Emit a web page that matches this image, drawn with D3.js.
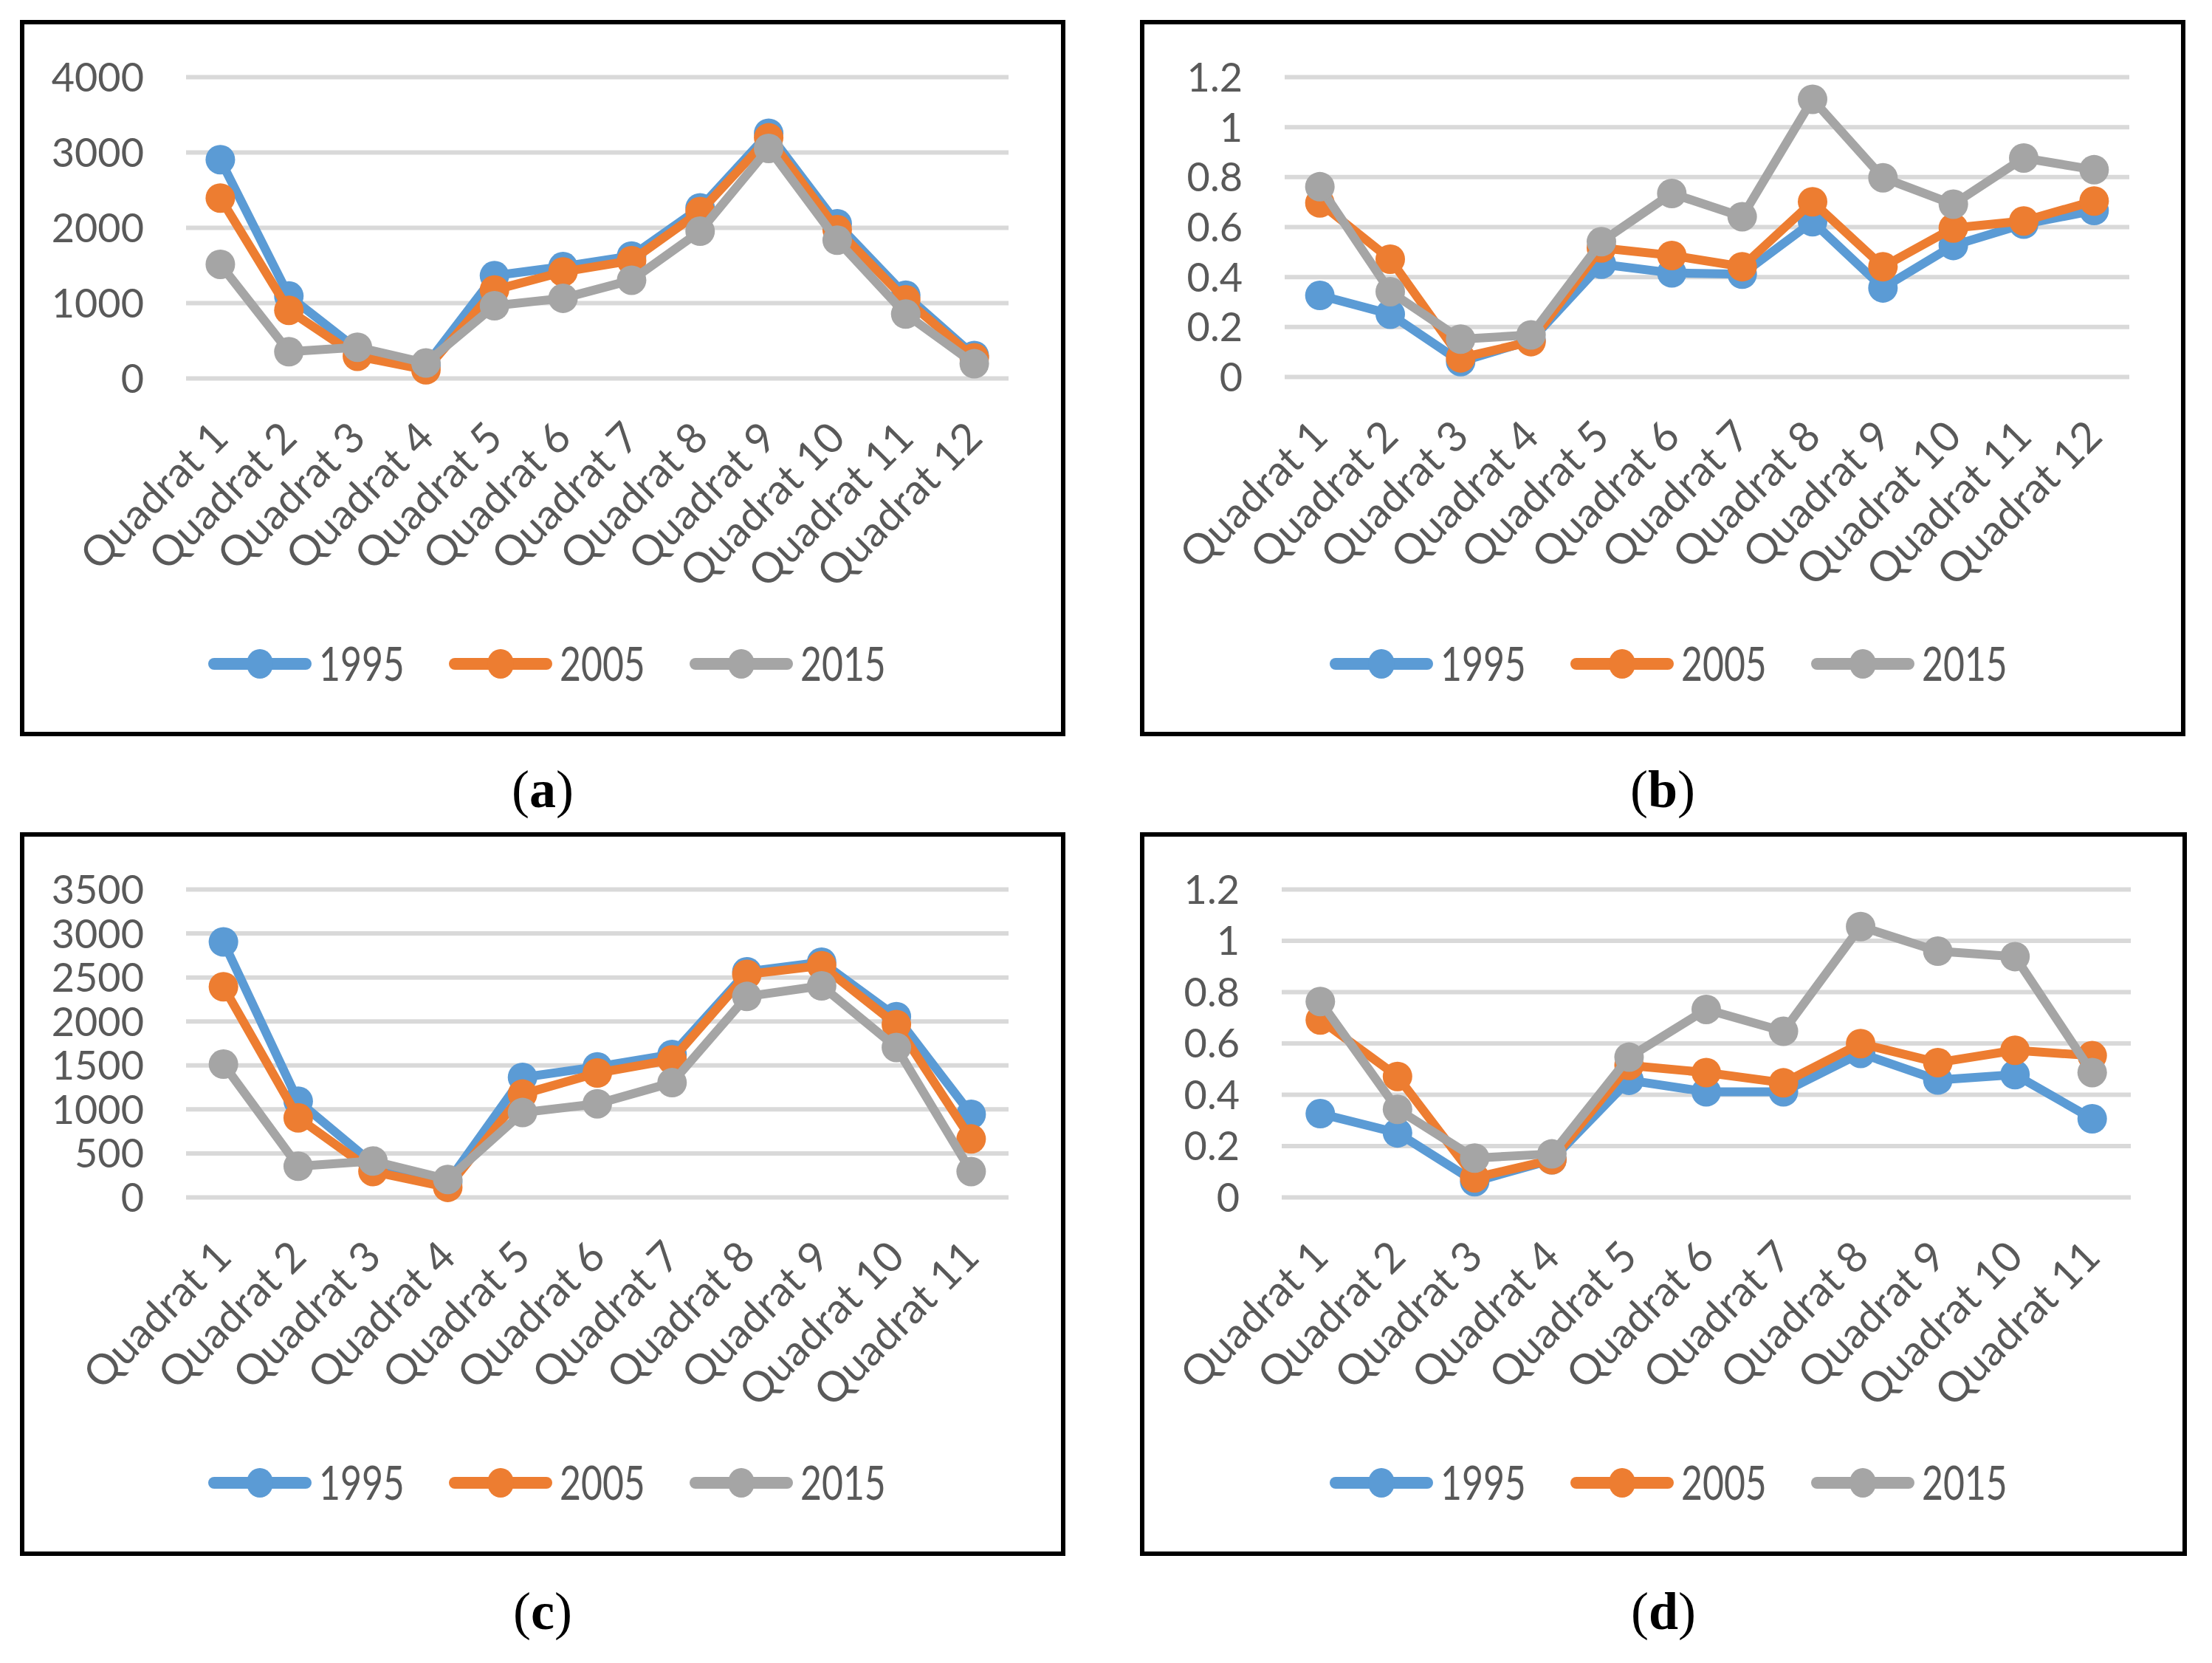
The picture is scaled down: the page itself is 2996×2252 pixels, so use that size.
<!DOCTYPE html>
<html>
<head>
<meta charset="utf-8">
<script src="https://cdn.jsdelivr.net/npm/d3@7"></script>
<style>
  body { margin: 0; background: #fff; }
  svg { display: block; }
</style>
</head>
<body>
<div id="vis"></div>
<script>
const FRAME_WIDTH = 2996;
const FRAME_HEIGHT = 2252;
const FONT = "Lato, 'Open Sans', sans-serif";
const TEXT_COLOR = "#595959";
const GRID_COLOR = "#D9D9D9";

// data
const YEARS = ["1995", "2005", "2015"];
const COLORS = ["#5B9BD5", "#ED7D31", "#A5A5A5"];

const QUADRATS_12 = ["Quadrat 1", "Quadrat 2", "Quadrat 3", "Quadrat 4", "Quadrat 5", "Quadrat 6",
  "Quadrat 7", "Quadrat 8", "Quadrat 9", "Quadrat 10", "Quadrat 11", "Quadrat 12"];
const QUADRATS_11 = ["Quadrat 1", "Quadrat 2", "Quadrat 3", "Quadrat 4", "Quadrat 5", "Quadrat 6",
  "Quadrat 7", "Quadrat 8", "Quadrat 9", "Quadrat 10", "Quadrat 11"];

const Y_TICKS_A = [0, 1000, 2000, 3000, 4000];
const Y_TICKS_C = [0, 500, 1000, 1500, 2000, 2500, 3000, 3500];
const Y_TICKS_RATIO = [0, 0.2, 0.4, 0.6, 0.8, 1, 1.2];

const A_1995 = [2900, 1090, 380, 170, 1360, 1480, 1620, 2260, 3250, 2050, 1100, 300];
const A_2005 = [2390, 900, 290, 110, 1170, 1410, 1560, 2210, 3190, 1970, 1040, 270];
const A_2015 = [1510, 350, 410, 200, 960, 1060, 1300, 1950, 3050, 1830, 850, 190];

const B_1995 = [0.325, 0.25, 0.06, 0.145, 0.45, 0.415, 0.41, 0.62, 0.355, 0.525, 0.61, 0.665];
const B_2005 = [0.695, 0.47, 0.075, 0.14, 0.515, 0.485, 0.44, 0.70, 0.44, 0.595, 0.623, 0.703];
const B_2015 = [0.76, 0.34, 0.15, 0.167, 0.54, 0.733, 0.64, 1.11, 0.796, 0.69, 0.875, 0.828];

const C_1995 = [2900, 1090, 380, 170, 1360, 1480, 1620, 2560, 2670, 2050, 940];
const C_2005 = [2390, 900, 290, 110, 1170, 1410, 1560, 2530, 2630, 1960, 660];
const C_2015 = [1510, 350, 410, 200, 960, 1060, 1300, 2280, 2400, 1700, 290];

const D_1995 = [0.325, 0.25, 0.06, 0.145, 0.455, 0.41, 0.41, 0.56, 0.456, 0.477, 0.305];
const D_2005 = [0.69, 0.47, 0.075, 0.145, 0.513, 0.485, 0.445, 0.598, 0.524, 0.572, 0.551];
const D_2015 = [0.762, 0.342, 0.152, 0.168, 0.545, 0.731, 0.646, 1.054, 0.958, 0.937, 0.485];

const PANELS = [
  { id: "a", categories: QUADRATS_12, series: [A_1995, A_2005, A_2015], yTicks: Y_TICKS_A,
    box: { left: 30, top: 30, right: 1440, bottom: 994 },
    plot: { left: 252, right: 1366, top: 104, bottom: 512 },
    legendY: 899, legendX: 742, labelY: 1093 },
  { id: "b", categories: QUADRATS_12, series: [B_1995, B_2005, B_2015], yTicks: Y_TICKS_RATIO,
    box: { left: 1547, top: 30, right: 2957, bottom: 994 },
    plot: { left: 1740, right: 2884, top: 104, bottom: 510 },
    legendY: 899, legendX: 2261, labelY: 1093 },
  { id: "c", categories: QUADRATS_11, series: [C_1995, C_2005, C_2015], yTicks: Y_TICKS_C,
    box: { left: 30, top: 1130, right: 1440, bottom: 2104 },
    plot: { left: 252, right: 1366, top: 1204, bottom: 1621 },
    legendY: 2008, legendX: 742, labelY: 2206 },
  { id: "d", categories: QUADRATS_11, series: [D_1995, D_2005, D_2015], yTicks: Y_TICKS_RATIO,
    box: { left: 1547, top: 1130, right: 2959, bottom: 2104 },
    plot: { left: 1736, right: 2886, top: 1204, bottom: 1621 },
    legendY: 2008, legendX: 2261, labelY: 2206 }
];

const FRAME = d3.select("#vis")
  .append("svg")
  .attr("width", FRAME_WIDTH)
  .attr("height", FRAME_HEIGHT);

FRAME.append("rect")
  .attr("width", FRAME_WIDTH)
  .attr("height", FRAME_HEIGHT)
  .attr("fill", "#fff");

function drawPanel(p) {
  const X_SCALE = d3.scaleBand()
    .domain(p.categories)
    .range([p.plot.left, p.plot.right]);

  const Y_SCALE = d3.scaleLinear()
    .domain([0, d3.max(p.yTicks)])
    .range([p.plot.bottom, p.plot.top]);

  const xCenter = (j) => X_SCALE(p.categories[j]) + X_SCALE.bandwidth() / 2;

  // frame around the chart
  FRAME.append("rect")
    .attr("x", p.box.left)
    .attr("y", p.box.top)
    .attr("width", p.box.right - p.box.left)
    .attr("height", p.box.bottom - p.box.top)
    .attr("fill", "none")
    .attr("stroke", "#000")
    .attr("stroke-width", 6);

  // y axis + gridlines
  const yAxis = FRAME.append("g")
    .attr("transform", `translate(${p.plot.left},0)`)
    .call(d3.axisLeft(Y_SCALE)
      .tickValues(p.yTicks)
      .tickFormat((d) => String(+d.toFixed(1)))
      .tickSize(-(p.plot.right - p.plot.left))
      .tickPadding(57));
  yAxis.select(".domain").remove();
  yAxis.selectAll("line")
    .attr("stroke", GRID_COLOR)
    .attr("stroke-width", 6);
  yAxis.selectAll("text")
    .attr("fill", TEXT_COLOR)
    .attr("font-family", FONT)
    .attr("font-size", 54)
    .attr("dy", "0.36em");

  // x axis labels, rotated
  const xAxis = FRAME.append("g")
    .attr("transform", `translate(0,${p.plot.bottom})`)
    .call(d3.axisBottom(X_SCALE).tickSize(0));
  xAxis.select(".domain").remove();
  xAxis.selectAll("text")
    .attr("x", 0)
    .attr("y", 0)
    .attr("dy", 0)
    .attr("text-anchor", "end")
    .attr("transform", "translate(14,84) rotate(-45)")
    .attr("fill", TEXT_COLOR)
    .attr("font-family", FONT)
    .attr("font-size", 57);

  // series
  p.series.forEach((vals, i) => {
    const line = d3.line()
      .x((d, j) => xCenter(j))
      .y((d) => Y_SCALE(d));

    FRAME.append("path")
      .datum(vals)
      .attr("d", line)
      .attr("fill", "none")
      .attr("stroke", COLORS[i])
      .attr("stroke-width", 12)
      .attr("stroke-linejoin", "round");

    FRAME.append("g")
      .selectAll("circle")
      .data(vals)
      .enter()
      .append("circle")
      .attr("cx", (d, j) => xCenter(j))
      .attr("cy", (d) => Y_SCALE(d))
      .attr("r", 20)
      .attr("fill", COLORS[i]);
  });

  // legend
  const ITEM_STEP = 326;
  const legend = FRAME.append("g")
    .attr("transform", `translate(${p.legendX - 460},${p.legendY})`);
  YEARS.forEach((year, i) => {
    const g = legend.append("g").attr("transform", `translate(${i * ITEM_STEP},0)`);
    g.append("line")
      .attr("x1", 8).attr("x2", 132)
      .attr("stroke", COLORS[i])
      .attr("stroke-width", 16)
      .attr("stroke-linecap", "round");
    g.append("ellipse")
      .attr("cx", 70)
      .attr("rx", 18)
      .attr("ry", 20)
      .attr("fill", COLORS[i]);
    g.append("text")
      .attr("transform", "translate(150,0) scale(0.78,1)")
      .attr("dy", "0.36em")
      .attr("fill", TEXT_COLOR)
      .attr("font-family", FONT)
      .attr("font-size", 64)
      .text(year);
  });

  // panel label
  const label = FRAME.append("text")
    .attr("x", (p.box.left + p.box.right) / 2)
    .attr("y", p.labelY)
    .attr("text-anchor", "middle")
    .attr("font-family", "'Liberation Serif', 'DejaVu Serif', serif")
    .attr("font-size", 72)
    .attr("fill", "#000");
  label.append("tspan").text("(");
  label.append("tspan").attr("font-weight", "bold").text(p.id);
  label.append("tspan").text(")");
}

PANELS.forEach(drawPanel);
</script>
</body>
</html>
